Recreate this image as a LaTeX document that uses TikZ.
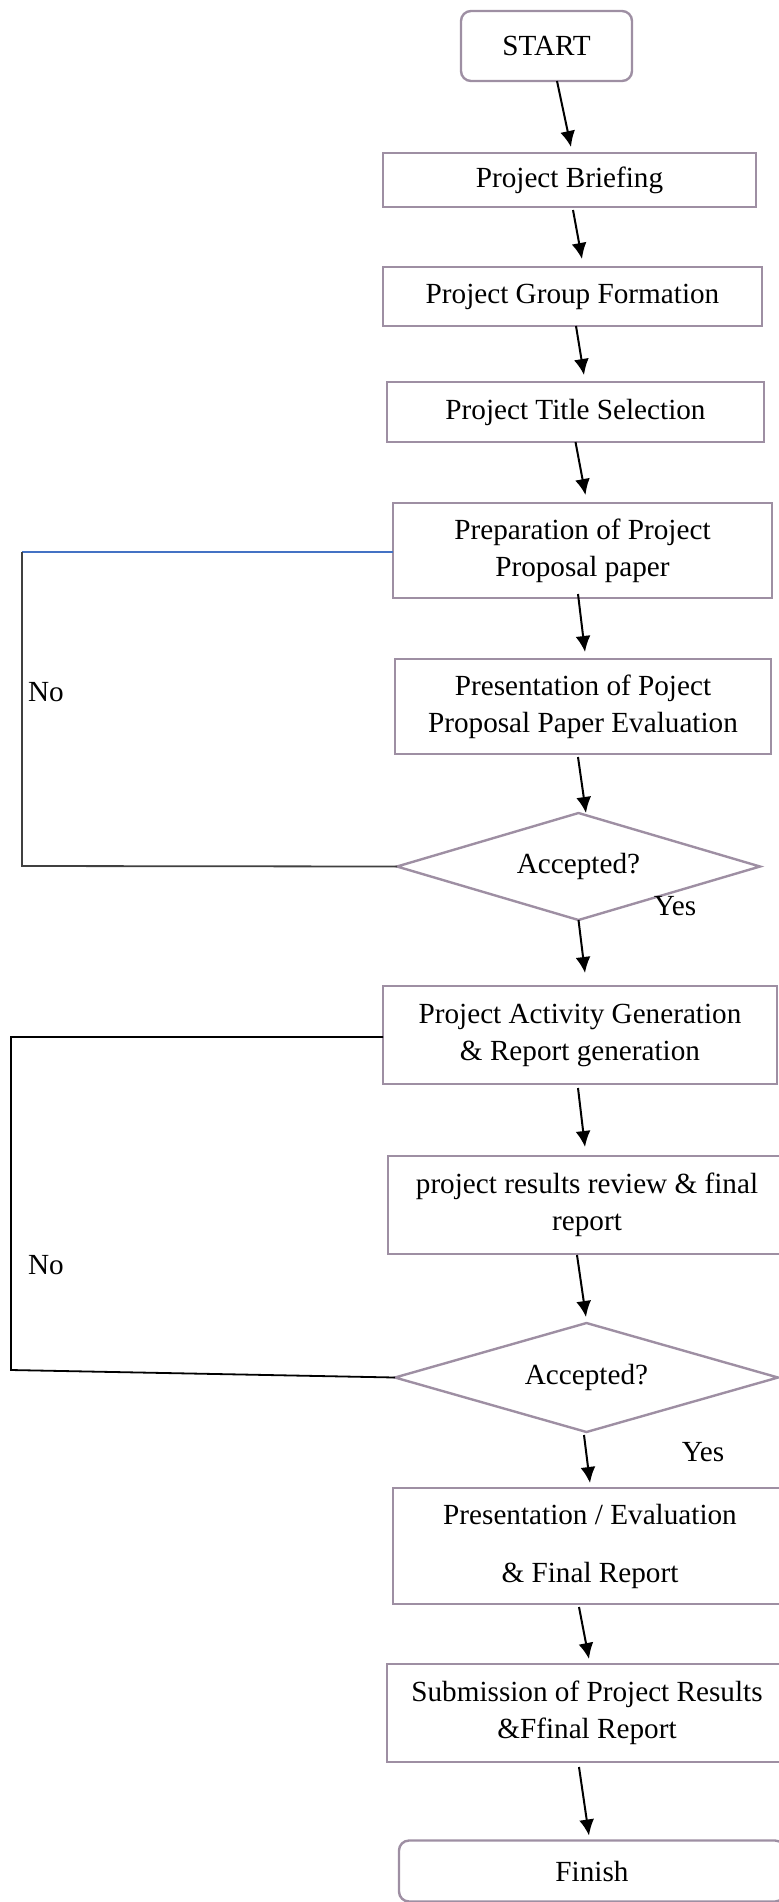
\documentclass[tikz,border=0pt]{standalone}
\usepackage{fontspec}
\setmainfont{Liberation Serif}
\usetikzlibrary{shapes.geometric,arrows.meta}
\definecolor{boxline}{RGB}{158,143,163}
\definecolor{linkblue}{RGB}{68,114,196}
\definecolor{linkgray}{RGB}{64,64,64}

\begin{document}
\begin{tikzpicture}[x=0.5pt, y=-0.5pt,
	every node/.style={font=\fontsize{14.6}{18.5}\selectfont},
	b/.style={rectangle, draw=boxline, line width=1.2pt, inner sep=0pt, outer sep=0pt, align=center},
	term/.style={b, rounded corners=5pt},
	dec/.style={diamond, draw=boxline, line width=1.2pt, inner sep=0pt, outer sep=0pt, aspect=3.4},
	arr/.style={-{Latex[length=8pt,width=7.5pt]}, line width=1pt},
	back/.style={line width=0.9pt}]
		\useasboundingbox (0,0) rectangle (778,1902);

		\node [term, minimum width=85.5pt, minimum height=35pt] (start) at (546.5,46) {START};
		\node [b, minimum width=186.5pt, minimum height=27pt] (brief) at (569.5,180) {Project Briefing};
		\node [b, minimum width=189.5pt, minimum height=29.5pt] (group) at (572.5,296.5) {Project Group Formation};
		\node [b, minimum width=188.5pt, minimum height=30pt] (title) at (575.5,412) {Project Title Selection};
		\node [b, minimum width=189.5pt, minimum height=47.5pt] (prep) at (582.5,550.5) {Preparation of Project\\Proposal paper};
		\node [b, minimum width=188pt, minimum height=47.5pt] (pres) at (583,706.5) {Presentation of Poject\\Proposal Paper Evaluation};
		\node [dec, minimum width=181.5pt, minimum height=53.5pt] (acc1) at (578.5,866.5) {Accepted?};
		\node [b, minimum width=197pt, minimum height=49pt] (act) at (580,1035) {Project Activity Generation\\\& Report generation};
		\node [b, minimum width=199pt, minimum height=49pt] (review) at (587,1205) {project results review \& final\\report};
		\node [dec, minimum width=191.5pt, minimum height=54.5pt] (acc2) at (586.5,1377.5) {Accepted?};
		\node [b, minimum width=197pt, minimum height=58pt] (eval) at (590,1546) {Presentation / Evaluation\\[10.5pt]\& Final Report};
		\node [b, minimum width=200pt, minimum height=49pt] (submit) at (587,1713) {Submission of Project Results\\\&Ffinal Report};
		\node [term, minimum width=193pt, minimum height=30.5pt] (finish) at (592,1871) {Finish};

		\node (no1) at (46,692) {No};
		\node (no2) at (46,1265) {No};
		\node (yes1) at (675,906) {Yes};
		\node (yes2) at (703,1452) {Yes};

		\coordinate (n1a) at (22,552);
		\coordinate (n1b) at (22,866);
		\coordinate (n2a) at (11,1037);
		\coordinate (n2b) at (11,1370);

		\draw[arr] ([shift={(10.5,0)}]start.south) -- ([shift={(1.5,-6)}]brief.north);
		\draw[arr] ([shift={(3.5,3)}]brief.south) -- ([shift={(9.5,-8)}]group.north);
		\draw[arr] ([shift={(3.5,0)}]group.south) -- ([shift={(8.5,-7)}]title.north);
		\draw[arr] ([shift={(0,0)}]title.south) -- ([shift={(3,-8)}]prep.north);
		\draw[arr] ([shift={(-4.5,-4)}]prep.south) -- ([shift={(2,-7)}]pres.north);
		\draw[arr] ([shift={(-5,3)}]pres.south) -- ([shift={(7.5,0)}]acc1.north);
		\draw[arr] (acc1.south) -- ([shift={(5,-13)}]act.north);
		\draw[arr] ([shift={(-2,4)}]act.south) -- ([shift={(-2,-9)}]review.north);
		\draw[arr] ([shift={(-10,1)}]review.south) -- ([shift={(-0.5,-6)}]acc2.north);
		\draw[arr] ([shift={(-2.5,3)}]acc2.south) -- ([shift={(0,-5)}]eval.north);
		\draw[arr] ([shift={(-11,3)}]eval.south) -- ([shift={(2,-5)}]submit.north);
		\draw[arr] ([shift={(-8,5)}]submit.south) -- ([shift={(-3,-5)}]finish.north);

		\draw[back, linkblue] (n1a -| prep.west) -- (n1a);
		\draw[back, linkgray] (n1a) -- (n1b) -- (acc1.west);
		\draw[back] (n2a -| act.west) -- (n2a) -- (n2b) -- (acc2.west);
	\end{tikzpicture}
\end{document}
